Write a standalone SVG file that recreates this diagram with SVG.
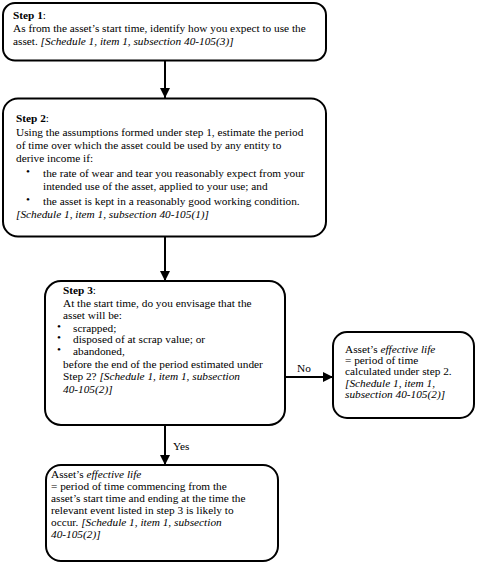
<svg xmlns="http://www.w3.org/2000/svg" width="477" height="563" viewBox="0 0 477 563">
<style>
.box{fill:#fff;stroke:#000;stroke-width:2}
.t{font-family:'Liberation Serif','Times New Roman','DejaVu Serif',serif;font-size:11.3px;fill:#000}
.b{font-weight:bold}
.i{font-style:italic}
.c{stroke:#000;stroke-width:2;fill:none}
</style>
<defs>
<marker id="ah" viewBox="0 0 10 10" refX="10" refY="5" markerWidth="10" markerHeight="10" markerUnits="userSpaceOnUse" orient="auto">
<path d="M0,0 L10,5 L0,10 Z" fill="#000"/>
</marker>
</defs>
<rect width="477" height="563" fill="#fff"/>
<g id="connectors">
<line class="c" x1="165" y1="60.5" x2="165" y2="98" marker-end="url(#ah)"/>
<line class="c" x1="165" y1="236.5" x2="165" y2="281" marker-end="url(#ah)"/>
<line class="c" x1="285" y1="377" x2="333" y2="377" marker-end="url(#ah)"/>
<line class="c" x1="165" y1="425" x2="165" y2="465" marker-end="url(#ah)"/>
<text class="t" x="297" y="372">No</text>
<text class="t" x="173" y="450">Yes</text>
</g>
<g id="step1">
<rect class="box" x="3" y="3" width="323" height="57.5" rx="12"/>
<text class="t" x="13" y="19"><tspan class="b">Step 1</tspan>:</text>
<text class="t" x="13" y="32">As from the asset’s start time, identify how you expect to use the</text>
<text class="t" x="13" y="45">asset. <tspan class="i">[Schedule 1, item 1, subsection 40-105(3)]</tspan></text>
</g>
<g id="step2">
<rect class="box" x="3" y="98.5" width="323" height="138" rx="15"/>
<text class="t" x="16" y="122"><tspan class="b">Step 2</tspan>:</text>
<text class="t" x="16" y="136">Using the assumptions formed under step 1, estimate the period</text>
<text class="t" x="16" y="149">of time over which the asset could be used by any entity to</text>
<text class="t" x="16" y="162">derive income if:</text>
<text class="t" x="26" y="175">•</text>
<text class="t" x="43" y="177">the rate of wear and tear you reasonably expect from your</text>
<text class="t" x="43" y="190">intended use of the asset, applied to your use; and</text>
<text class="t" x="26" y="203">•</text>
<text class="t" x="43" y="205">the asset is kept in a reasonably good working condition.</text>
<text class="t i" x="16" y="218">[Schedule 1, item 1, subsection 40-105(1)]</text>
</g>
<g id="step3">
<rect class="box" x="45" y="281" width="240" height="144" rx="16"/>
<text class="t" x="63" y="294"><tspan class="b">Step 3</tspan>:</text>
<text class="t" x="63" y="307">At the start time, do you envisage that the</text>
<text class="t" x="63" y="319">asset will be:</text>
<text class="t" x="57" y="330">•</text>
<text class="t" x="73" y="332">scrapped;</text>
<text class="t" x="57" y="341">•</text>
<text class="t" x="73" y="343">disposed of at scrap value; or</text>
<text class="t" x="57" y="353">•</text>
<text class="t" x="73" y="355">abandoned,</text>
<text class="t" x="63" y="368">before the end of the period estimated under</text>
<text class="t" x="63" y="380">Step 2? <tspan class="i">[Schedule 1, item 1, subsection</tspan></text>
<text class="t i" x="63" y="393">40-105(2)]</text>
</g>
<g id="no-result">
<rect class="box" x="333" y="332" width="141" height="86" rx="14"/>
<text class="t" x="345" y="353">Asset’s <tspan class="i">effective life</tspan></text>
<text class="t" x="345" y="364">=  period of time</text>
<text class="t" x="345" y="375">calculated under step 2.</text>
<text class="t i" x="345" y="387">[Schedule 1, item 1,</text>
<text class="t i" x="345" y="398">subsection 40-105(2)]</text>
</g>
<g id="yes-result">
<rect class="box" x="46" y="465" width="232" height="96" rx="15"/>
<text class="t" x="51" y="478">Asset’s <tspan class="i">effective life</tspan></text>
<text class="t" x="51" y="490">=  period of time commencing from the</text>
<text class="t" x="51" y="502">asset’s start time and ending at the time the</text>
<text class="t" x="51" y="514">relevant event listed in step 3 is likely to</text>
<text class="t" x="51" y="526">occur. <tspan class="i">[Schedule 1, item 1, subsection</tspan></text>
<text class="t i" x="51" y="538">40-105(2)]</text>
</g>
</svg>
